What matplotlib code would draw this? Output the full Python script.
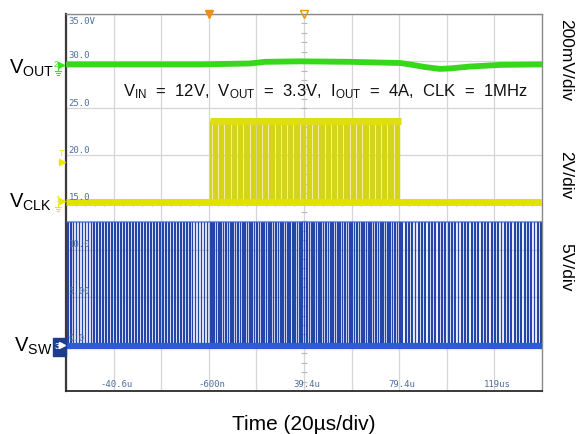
import numpy as np
import matplotlib
matplotlib.use('Agg')
import matplotlib.pyplot as plt
from matplotlib.patches import Rectangle
from matplotlib.lines import Line2D

plt.rcParams['font.family'] = ['Liberation Sans', 'DejaVu Sans']
plt.rcParams['mathtext.fontset'] = 'custom'
plt.rcParams['mathtext.rm'] = 'Liberation Sans'
plt.rcParams['mathtext.it'] = 'Liberation Sans:italic'
plt.rcParams['mathtext.bf'] = 'Liberation Sans:bold'

W, H = 576, 434

# ---------------- data ----------------
t_start_us = -60.6
us_per_div = 20.0
n_xdiv = 10
n_ydiv = 8

time_labels = ['-40.6u', '-600n', '39.4u', '79.4u', '119us']
time_label_us = [-40.6, -0.6, 39.4, 79.4, 119.4]
level_labels = ['0.0', '5.00', '10.0', '15.0', '20.0', '25.0', '30.0', '35.0V']
level_label_div = [1, 2, 3, 4, 5, 6, 7, 8]

# VOUT (ch2), 200 mV/div
vout_t_us = [-60.6, -4.3, 16.7, 23.0, 37.7, 58.7, 79.7, 83.9, 90.2, 96.5, 100.7, 109.1, 121.8, 139.4]
vout_v = [3.300, 3.300, 3.304, 3.311, 3.313, 3.311, 3.306, 3.300, 3.289, 3.281, 3.283, 3.291, 3.298, 3.300]
vout_scale = 0.2
vout_ref_v = 3.3
vout_ref_div = 6.93

# VCLK (ch1), 2 V/div
clk_burst_us = [0.0, 80.0]
clk_freq_mhz = 1.0
clk_duty = 0.5
clk_low_v, clk_high_v = 0.0, 3.4
clk_scale = 2.0
clk_zero_div = 4.02

# VSW (ch3), 5 V/div
sw_seg_start_us = [-60.6, 0.0, 80.0]
sw_seg_end_us = [0.0, 80.0, 139.4]
sw_freq_mhz = [0.8, 1.0, 0.72]
sw_duty = 0.275
sw_low_v, sw_high_v = 0.0, 13.1
sw_scale = 5.0
sw_zero_div = 0.96

# ---------------- helpers ----------------
def pulse_train(t0, t1, f_mhz, duty, lo, hi):
    period = 1.0 / f_mhz
    ts, vs = [], []
    for s in np.arange(t0, t1, period):
        e = min(s + duty * period, t1)
        ts += [s, s, e, e]
        vs += [lo, hi, hi, lo]
    return np.array(ts), np.array(vs)

def fx(x):
    return x / W

def fy(y):
    return 1 - y / H

fig = plt.figure(figsize=(W / 100, H / 100), dpi=100)
ax = fig.add_axes([fx(66), fy(391), (542 - 66) / W, (391 - 14) / H])
t_end = t_start_us + n_xdiv * us_per_div
ax.set_xlim(t_start_us, t_end)
ax.set_ylim(0, n_ydiv)
ax.set_xticks([t_start_us + k * us_per_div for k in range(n_xdiv + 1)])
ax.set_yticks(range(n_ydiv + 1))
ax.grid(True, color='#d6d6d6', lw=0.9)
ax.set_axisbelow(True)
ax.tick_params(length=0, labelbottom=False, labelleft=False)
for side, c, lw in [('left', '#3a3a3a', 1.6), ('bottom', '#2a2a2a', 1.3),
                    ('top', '#8a8a8a', 1.0), ('right', '#8a8a8a', 1.0)]:
    ax.spines[side].set_color(c)
    ax.spines[side].set_linewidth(lw)

# centre-line minor ticks
tc = t_start_us + n_xdiv / 2 * us_per_div
yt = np.arange(0, n_ydiv + 0.01, 0.2)
ax.plot(np.full_like(yt, tc), yt, ls='none', marker='_', ms=4, color='#b8b8b8', mew=0.8, zorder=1)
xt = np.arange(t_start_us, t_end + 0.01, us_per_div / 5)
ax.plot(xt, np.full_like(xt, n_ydiv / 2), ls='none', marker='|', ms=4, color='#b8b8b8', mew=0.8, zorder=1)

# ---- VSW ----
sw_color = '#2446aa'
for a, b, f in zip(sw_seg_start_us, sw_seg_end_us, sw_freq_mhz):
    ts, vs = pulse_train(a + 0.3, b, f, sw_duty, sw_low_v, sw_high_v)
    ax.plot(ts, sw_zero_div + vs / sw_scale, color=sw_color, lw=0.85, zorder=3)
ax.hlines(sw_zero_div + sw_low_v / sw_scale, t_start_us, t_end, color='#2f5ad6', lw=4.5, zorder=4)
ax.hlines(sw_zero_div + sw_high_v / sw_scale, t_start_us, t_end, color='#3a62d0', lw=1.5, zorder=4, alpha=0.6)

# ---- VCLK ----
clk_color = '#d4d41c'
ts, vs = pulse_train(clk_burst_us[0], clk_burst_us[1], clk_freq_mhz, clk_duty, clk_low_v, clk_high_v)
ax.plot(ts, clk_zero_div + vs / clk_scale, color=clk_color, lw=1.0, zorder=3)
ax.hlines(clk_zero_div + clk_low_v / clk_scale, t_start_us, t_end, color='#e2e200', lw=5, zorder=4)
ax.hlines(clk_zero_div + clk_high_v / clk_scale, clk_burst_us[0], clk_burst_us[1], color='#dede10', lw=5, zorder=4)

# ---- VOUT ----
ax.plot(vout_t_us, vout_ref_div + (np.array(vout_v) - vout_ref_v) / vout_scale,
        color='#36d81a', lw=4.2, zorder=5, solid_capstyle='butt')

# inside labels
lab_c = '#4f6f9f'
for lab, d in zip(level_labels, level_label_div):
    if d == n_ydiv:
        ax.annotate(lab, (t_start_us, d), xytext=(2, -2), textcoords='offset points',
                    ha='left', va='top', fontsize=6.5, color=lab_c, family='DejaVu Sans Mono', zorder=6)
    else:
        ax.annotate(lab, (t_start_us, d), xytext=(2, 0.5), textcoords='offset points',
                    ha='left', va='bottom', fontsize=6.5, color=lab_c, family='DejaVu Sans Mono', zorder=6)
for lab, t in zip(time_labels, time_label_us):
    ax.annotate(lab, (t, 0), xytext=(2, 1.5), textcoords='offset points',
                ha='center', va='bottom', fontsize=6.5, color=lab_c, family='DejaVu Sans Mono', zorder=6)

# trigger markers at top
ax.plot([time_label_us[1]], [n_ydiv], marker='v', ms=6, color='#f09010', clip_on=False, zorder=7)
ax.plot([time_label_us[2]], [n_ydiv], marker='v', ms=6, mfc='none', mec='#f09010', mew=1.0,
        clip_on=False, zorder=7)

# ---------------- texts ----------------
fig.text(fx(123), fy(96), r'V$_{\rm IN}$  =  12V,  V$_{\rm OUT}$  =  3.3V,  I$_{\rm OUT}$  =  4A,  CLK  =  1MHz',
         fontsize=12, ha='left', va='baseline', color='#111111')
fig.text(fx(9), fy(74), r'V$_{\rm OUT}$', fontsize=14.5, ha='left', va='baseline')
fig.text(fx(9), fy(208), r'V$_{\rm CLK}$', fontsize=14.5, ha='left', va='baseline')
fig.text(fx(14), fy(352), r'V$_{\rm SW}$', fontsize=14.5, ha='left', va='baseline')
fig.text(fx(304), fy(425), 'Time (20µs/div)', fontsize=15, ha='center', va='center')
fig.text(fx(566), fy(60), '200mV/div', fontsize=12.5, rotation=270, ha='center', va='center')
fig.text(fx(566), fy(175), '2V/div', fontsize=12.5, rotation=270, ha='center', va='center')
fig.text(fx(566), fy(267), '5V/div', fontsize=12.5, rotation=270, ha='center', va='center')

# channel markers
def ground(x, y, c):
    fig.add_artist(Line2D([fx(x), fx(x)], [fy(y), fy(y + 4)], color=c, lw=0.8))
    for i, hw in enumerate([3, 2, 1]):
        fig.add_artist(Line2D([fx(x - hw), fx(x + hw)], [fy(y + 4 + 2 * i)] * 2, color=c, lw=0.8))

green = '#3fe020'
yellow = '#e8e800'
fig.text(fx(54), fy(67), '2', fontsize=6.5, color=green)
fig.add_artist(Line2D([fx(61)], [fy(65)], marker='>', ms=4.5, color=green, ls='none'))
ground(58, 67, green)
fig.text(fx(55), fy(202), '1', fontsize=6.5, color=yellow)
fig.add_artist(Line2D([fx(62)], [fy(201)], marker='>', ms=4.5, color=yellow, ls='none'))
ground(58, 203, yellow)
fig.text(fx(59), fy(156), 'T', fontsize=6.5, color=yellow)
fig.add_artist(Line2D([fx(62)], [fy(162)], marker='>', ms=4.5, color=yellow, ls='none'))
fig.add_artist(Rectangle((fx(53), fy(356)), 13 / W, 18 / H, color='#1c3d8c', zorder=8))
fig.text(fx(54.5), fy(349), '3', fontsize=6.5, color='white', zorder=9)
fig.add_artist(Line2D([fx(62)], [fy(345)], marker='>', ms=4, color='white', ls='none', zorder=9))

fig.savefig('out.png', dpi=100)
